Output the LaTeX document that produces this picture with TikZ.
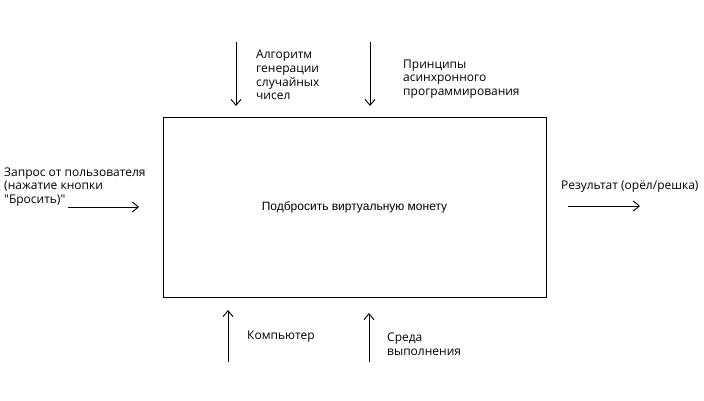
\documentclass[tikz,border=0pt]{standalone}
\usepackage{fontspec}
\setmainfont{Open Sans}
\newfontfamily\boxfont{Liberation Sans}
\usetikzlibrary{arrows.meta}
\tikzset{
  lbl/.style={anchor=west, align=left, inner sep=0pt, font=\fontsize{12}{13.6}\selectfont},
  arr/.style={line width=1pt, -{Straight Barb[length=6pt,width=10pt,line width=0.9pt]}},
}
\begin{document}
\begin{tikzpicture}[x=1pt,y=-1pt]
\useasboundingbox (0,0) rectangle (704,401);
\node[draw, line width=1pt, minimum width=383pt, minimum height=180pt, inner sep=0pt, anchor=north west] (box) at (163,117) {};
\node[font=\boxfont\fontsize{12}{14}\selectfont] (boxt) at (354.5,207) {Подбросить виртуальную монету};
% top controls
\coordinate (c1s) at (236,42);
\coordinate (c1e) at (236,106);
\coordinate (c2s) at (370,42);
\coordinate (c2e) at (370,106);
\draw[arr] (c1s) -- (c1e);
\draw[arr] (c2s) -- (c2e);
\node[lbl] (l1) at (256,75) {Алгоритм\\генерации\\случайных\\чисел};
\node[lbl] (l2) at (403,79) {Принципы\\асинхронного\\программирования};
% input
\coordinate (is) at (68,207);
\coordinate (ie) at (139,207);
\draw[arr] (is) -- (ie);
\node[lbl] (li) at (4,187) {Запрос от пользователя\\(нажатие кнопки\\\textquotedbl Бросить)\textquotedbl};
% output
\coordinate (os) at (568,206);
\coordinate (oe) at (640,206);
\draw[arr] (os) -- (oe);
\node[lbl] (lo) at (561,187) {Результат (орёл/решка)};
% mechanisms
\coordinate (m1s) at (228,362);
\coordinate (m1e) at (228,310);
\coordinate (m2s) at (369,362);
\coordinate (m2e) at (369,313);
\draw[arr] (m1s) -- (m1e);
\draw[arr] (m2s) -- (m2e);
\node[lbl] (lm1) at (247,337) {Компьютер};
\node[lbl] (lm2) at (387,344.5) {Среда\\выполнения};
\end{tikzpicture}
\end{document}
